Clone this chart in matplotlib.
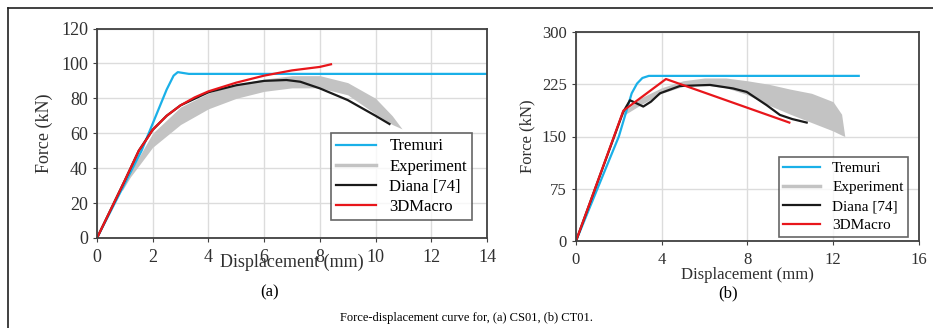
import numpy as np
import matplotlib.pyplot as plt

plt.rcParams["font.family"] = ["Liberation Serif", "DejaVu Serif"]

# (a) CS01
a_tremuri_x = [0, 1.6, 2.5, 2.75, 2.9, 3.1, 3.3, 14]
a_tremuri_y = [0, 50, 85, 93, 95, 94.5, 94, 94]
a_exp_x = [0.9, 1.2, 2, 3, 4, 5, 6, 7, 8, 9, 10, 10.6, 10.95]
a_exp_lo = [27, 35, 52, 65, 74, 80, 84, 86, 86, 82, 71, 65, 62.5]
a_exp_hi = [29, 38, 60, 75, 83, 88, 91, 93, 93, 89, 80, 70, 62.5]
a_diana_x = [0, 1, 1.5, 2, 2.5, 3, 4, 5, 6, 6.8, 7.3, 8, 9, 10, 10.5]
a_diana_y = [0, 33, 50, 62, 70, 76, 83.5, 87.5, 90, 90.5, 89.5, 85.7, 79, 70, 65.3]
a_macro_x = [0, 1, 1.5, 1.8, 2, 2.5, 3, 3.5, 4, 5, 6, 7, 8, 8.4]
a_macro_y = [0, 33, 50, 57, 62, 70, 76, 80.5, 84, 89, 93, 96, 98, 99.5]

# (b) CT01
b_tremuri_x = [0, 2, 2.6, 2.85, 3.1, 3.4, 13.2]
b_tremuri_y = [0, 150, 212, 226, 234, 237, 237]
b_exp_x = [2.2, 3, 4, 5, 6, 7, 8, 9, 10, 11, 12, 12.4, 12.55]
b_exp_lo = [180, 195, 212, 222, 224, 220, 210, 195, 182, 170, 158, 152, 150]
b_exp_hi = [185, 205, 220, 230, 234, 234, 230, 225, 218, 212, 200, 182, 150]
b_diana_x = [0, 2.2, 2.52, 2.8, 3.14, 3.5, 3.92, 4.85, 6.26, 7.33, 7.97, 8.9, 9.52, 10.1, 10.77]
b_diana_y = [0, 185, 202, 198, 193, 200, 212, 222.5, 224, 219, 214, 195, 181, 175, 170]
b_macro_x = [0, 2.21, 4.2, 9.96]
b_macro_y = [0, 187, 232.5, 170]

fig = plt.figure(figsize=(9.33, 3.28), dpi=100)

blue = "#1ab0e8"
gray = "#c3c3c3"
black = "#1a1a1a"
red = "#e8161b"


def style_axes(ax, size):
    ax.grid(True, color="#dcdcdc", linewidth=1.0)
    ax.set_axisbelow(True)
    for s in ax.spines.values():
        s.set_color("#404040")
        s.set_linewidth(1.3)
    ax.tick_params(labelsize=size, length=3, color="#404040", labelcolor="#303030")


def draw(ax, tx, ty, ex, elo, ehi, dx, dy, mx, my):
    ax.fill_between(ex, elo, ehi, color=gray, linewidth=0)
    ax.plot(tx, ty, color=blue, lw=1.6, label="Tremuri")
    ax.plot([], [], color=gray, lw=2.5, label="Experiment")
    ax.plot(dx, dy, color=black, lw=1.6, label="Diana [74]")
    ax.plot(mx, my, color=red, lw=1.6, label="3DMacro")


ax1 = fig.add_axes([97 / 933, 1 - 238 / 328, 390 / 933, 209.5 / 328])
draw(ax1, a_tremuri_x, a_tremuri_y, a_exp_x, a_exp_lo, a_exp_hi,
     a_diana_x, a_diana_y, a_macro_x, a_macro_y)
ax1.set_xlim(0, 14)
ax1.set_ylim(0, 120)
ax1.set_xticks(np.arange(0, 15, 2))
ax1.set_yticks(np.arange(0, 121, 20))
style_axes(ax1, 13)
ax1.tick_params(axis="x", pad=5)
# in the source figure the x label sits over the tick labels
ax1.set_xlabel("Displacement (mm)", fontsize=13, labelpad=-9, color="#303030")
ax1.set_ylabel("Force (kN)", fontsize=13, labelpad=6, color="#303030")
leg1 = ax1.legend(loc="lower right", bbox_to_anchor=(0.9615, 0.086), fontsize=12,
                  frameon=True, fancybox=False, edgecolor="#404040",
                  handlelength=2.4, borderpad=0.3, labelspacing=0.25,
                  borderaxespad=0)
leg1.get_frame().set_linewidth(1.2)

ax2 = fig.add_axes([576 / 933, 1 - 241 / 328, 342.7 / 933, 209 / 328])
draw(ax2, b_tremuri_x, b_tremuri_y, b_exp_x, b_exp_lo, b_exp_hi,
     b_diana_x, b_diana_y, b_macro_x, b_macro_y)
ax2.set_xlim(0, 16)
ax2.set_ylim(0, 300)
ax2.set_xticks(np.arange(0, 17, 4))
ax2.set_yticks(np.arange(0, 301, 75))
style_axes(ax2, 12)
ax2.tick_params(axis="x", pad=5)
ax2.set_xlabel("Displacement (mm)", fontsize=12, labelpad=-1, color="#303030")
ax2.set_ylabel("Force (kN)", fontsize=12, labelpad=5, color="#303030")
leg2 = ax2.legend(loc="lower right", bbox_to_anchor=(0.969, 0.019), fontsize=11,
                  frameon=True, fancybox=False, edgecolor="#404040",
                  handlelength=2.4, borderpad=0.3, labelspacing=0.35,
                  borderaxespad=0)
leg2.get_frame().set_linewidth(1.2)

fig.text(270 / 933, 1 - 292 / 328, "(a)", fontsize=12, ha="center", va="center")
fig.text(728 / 933, 1 - 293 / 328, "(b)", fontsize=12, ha="center", va="center")
fig.text(466 / 933, 1 - 318 / 328, "Force-displacement curve for, (a) CS01, (b) CT01.",
         fontsize=9, ha="center", va="center")

# outer frame
fig.add_artist(plt.Line2D([8 / 933, 1], [1 - 8 / 328, 1 - 8 / 328],
                          color="#202020", lw=1.2, transform=fig.transFigure))
fig.add_artist(plt.Line2D([8 / 933, 8 / 933], [0, 1 - 8 / 328],
                          color="#202020", lw=1.2, transform=fig.transFigure))

fig.savefig("out.png", dpi=100)
